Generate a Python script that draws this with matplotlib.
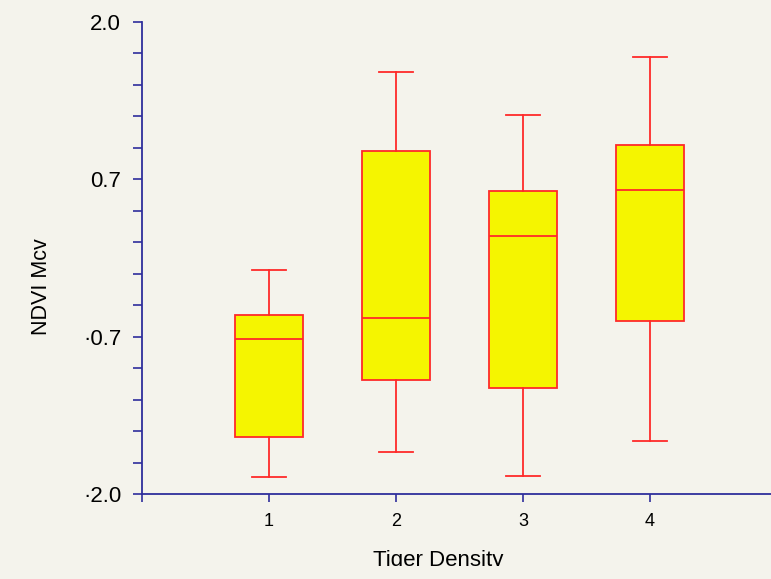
import matplotlib
matplotlib.use('Agg')
import matplotlib.pyplot as plt
from matplotlib.transforms import Bbox

# Box statistics (NDVI Mcv by tiger density class)
categories = [1, 2, 3, 4]
whisker_low = [-1.86, -1.64, -1.85, -1.55]
q1 = [-1.52, -1.03, -1.10, -0.53]
medians = [-0.69, -0.51, 0.19, 0.58]
q3 = [-0.48, 0.91, 0.57, 0.96]
whisker_high = [-0.10, 1.58, 1.21, 1.70]

y_ticks = [2.0, 0.6667, -0.6667, -2.0]
y_tick_labels = ['2.0', '0.7', '\u00b70.7', '\u00b72.0']

BG = '#f4f3ec'
AXIS_COLOR = '#2e2e9c'
EDGE = '#ff2a2a'
FILL = '#f5f500'

plt.rcParams['font.family'] = ['Liberation Sans', 'DejaVu Sans']

fig = plt.figure(figsize=(7.71, 5.79), dpi=100, facecolor=BG)
ax = fig.add_axes([142 / 771, 85 / 579, 635 / 771, 472 / 579], facecolor=BG)

stats = []
for c, lo, a, m, b, hi in zip(categories, whisker_low, q1, medians, q3, whisker_high):
    stats.append({'label': str(c), 'whislo': lo, 'q1': a, 'med': m, 'q3': b, 'whishi': hi})

ax.bxp(stats, positions=categories, widths=0.535, patch_artist=True,
       showfliers=False, manage_ticks=False,
       boxprops=dict(facecolor=FILL, edgecolor=EDGE, linewidth=1.3),
       medianprops=dict(color=EDGE, linewidth=1.3),
       whiskerprops=dict(color=EDGE, linewidth=1.3),
       capprops=dict(color=EDGE, linewidth=1.3),
       capwidths=0.27)

ax.set_xlim(0, 5)
ax.set_ylim(-2, 2)

for side in ['top', 'right']:
    ax.spines[side].set_visible(False)
for side in ['left', 'bottom']:
    ax.spines[side].set_color(AXIS_COLOR)
    ax.spines[side].set_linewidth(1.3)

# 16 evenly spaced marks on y, label only every fifth
all_y = [2.0 - i * 4.0 / 15 for i in range(16)]
ax.set_yticks(all_y)
ax.set_yticklabels([y_tick_labels[i // 5] if i % 5 == 0 else '' for i in range(16)])
ax.set_xticks([0, 1, 2, 3, 4, 5])
ax.set_xticklabels([''] + [str(c) for c in categories] + [''])

ax.tick_params(axis='y', direction='out', length=6.5, width=1.2, color=AXIS_COLOR,
               labelsize=16, pad=8.5)
ax.tick_params(axis='x', direction='out', length=6, width=1.2, color=AXIS_COLOR,
               labelsize=13, pad=8)

ax.set_ylabel('NDVI Mcv', fontsize=15.5)
ax.yaxis.set_label_coords(-0.141, 0.4386)
ax.set_xlabel('Tiger Density', fontsize=16)
ax.xaxis.set_label_coords(0.467, -0.14)
ax.xaxis.label.set_verticalalignment('center')
# bottom of the axis title is cut off in the original
ax.xaxis.label.set_clip_box(Bbox([[0, 13], [771, 579]]))
ax.xaxis.label.set_clip_on(True)

fig.savefig('out.png', dpi=100, facecolor=BG)
